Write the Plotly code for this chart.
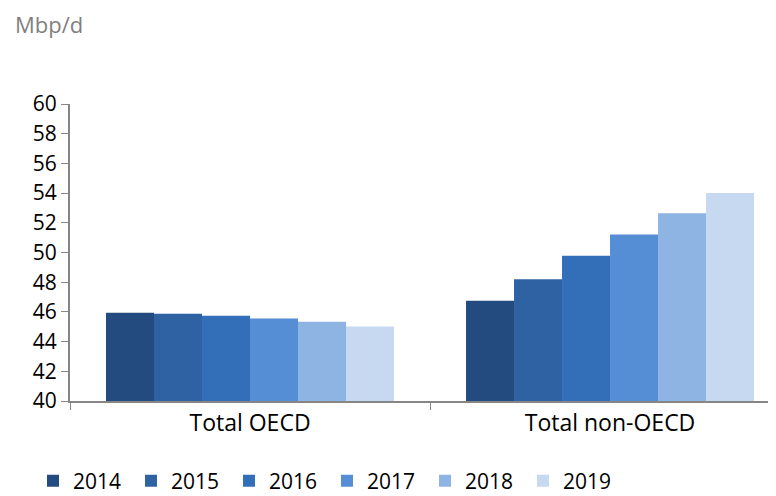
import plotly.graph_objects as go

categories = ["Total OECD", "Total non-OECD"]
years = ["2014", "2015", "2016", "2017", "2018", "2019"]
values = {
    "2014": [45.95, 46.75],
    "2015": [45.87, 48.2],
    "2016": [45.74, 49.78],
    "2017": [45.55, 51.22],
    "2018": [45.33, 52.65],
    "2019": [45.02, 54.0],
}
colors = ["#244B7F", "#2E62A3", "#336FB9", "#558ED5", "#8EB4E3", "#C6D9F1"]

fig = go.Figure()
for y, c in zip(years, colors):
    fig.add_trace(go.Bar(x=categories, y=values[y], name=y, marker_color=c,
                         marker_line_width=0))

font = "Open Sans, Noto Sans, sans-serif"
# page body adds an 8px offset; figure pixels = screen pixels - 8
W, H = 768, 488
fig.update_layout(
    width=W, height=H,
    margin=dict(l=62, r=0, t=96, b=95, autoexpand=False),
    paper_bgcolor="white", plot_bgcolor="white",
    barmode="group", bargap=0.2, bargroupgap=0,
    font=dict(family=font, size=21, color="#000000"),
    showlegend=True,
    legend=dict(orientation="h", xref="container", yref="container",
                x=25 / W, xanchor="left", y=1 - 473 / H, yanchor="middle",
                entrywidth=53, entrywidthmode="pixels", font=dict(size=21),
                itemwidth=30, traceorder="normal", valign="middle"),
    annotations=[dict(text="Mbp/d", x=(5 - 62) / 706, y=(393 - 15.5) / 297,
                      xref="paper", yref="paper",
                      showarrow=False, font=dict(size=22, color="#7F7F7F"),
                      xanchor="left", yanchor="middle")],
)
fig.update_xaxes(type="category", range=[-0.5, 1.461], tickson="boundaries",
                 ticks="outside", ticklen=7, tickcolor="#868686", showline=True,
                 linecolor="#868686", linewidth=2, showgrid=False,
                 tickfont=dict(size=23))
fig.update_yaxes(range=[40, 60], dtick=2, ticks="outside", ticklen=7,
                 tickcolor="#868686", showline=True, linecolor="#868686",
                 linewidth=2, showgrid=False, zeroline=False,
                 tickfont=dict(size=21))
fig.write_html("out.html")
